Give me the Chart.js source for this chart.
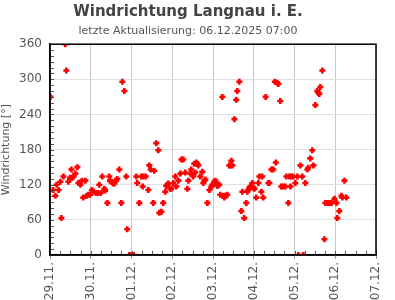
<!DOCTYPE html>
<html>
<head>
<meta charset="utf-8">
<script src="https://cdn.jsdelivr.net/npm/chart.js@4.4.1/dist/chart.umd.min.js"></script>
<style>
  html, body { margin: 0; padding: 0; background: #fff; }
  #wrap { width: 395px; height: 300px; }
</style>
</head>
<body>
<div id="wrap"><canvas id="windChart"></canvas></div>
<script>
// Stunden seit 29.11. 00:00
const stunden = [
  0.3, 1.8, 3.1, 3.9, 5.1, 6.1, 6.7, 7.9, 9.0, 9.6, 10.8, 11.8, 12.6, 13.1, 13.9, 14.9, 16.1, 16.7, 17.9, 18.8,
  19.6, 20.8, 21.6, 22.6, 23.6, 24.7, 25.7, 27.1, 28.1, 29.0, 29.9, 30.8, 32.0, 32.5, 33.8, 34.9, 35.3, 36.3, 37.1, 38.0,
  38.8, 39.6, 40.8, 42.0, 42.6, 43.8, 44.9, 45.5, 46.7, 48.1, 49.3, 50.8, 51.4, 52.6, 53.8, 54.6, 55.0, 56.4, 57.9, 58.5,
  59.3, 60.8, 61.4, 62.6, 63.8, 64.4, 65.6, 66.7, 67.9, 68.5, 69.1, 69.7, 70.9, 71.4, 72.6, 73.8, 74.4, 75.6, 76.8, 77.4,
  78.5, 79.7, 80.9, 81.5, 82.6, 83.2, 84.4, 85.0, 85.6, 86.2, 86.8, 87.3, 88.5, 89.7, 90.3, 90.9, 91.5, 92.7, 93.9, 95.1,
  95.6, 96.8, 97.4, 97.9, 98.6, 99.7, 100.3, 101.5, 102.1, 102.7, 103.3, 104.4, 105.6, 106.2, 106.8, 107.4, 108.6, 109.7, 110.3, 111.5,
  112.7, 113.3, 114.4, 115.6, 116.2, 116.8, 117.4, 118.0, 118.6, 119.2, 119.8, 120.4, 121.5, 122.7, 123.3, 124.5, 125.0, 125.6, 127.0, 128.6,
  129.2, 130.4, 131.5, 132.4, 133.0, 133.9, 134.5, 135.6, 136.2, 137.4, 138.6, 139.2, 140.4, 141.0, 141.6, 142.1, 143.3, 144.5, 145.7, 146.3,
  147.5, 148.6, 149.2, 150.4, 151.6, 152.1, 153.3, 154.5, 155.1, 156.3, 157.4, 158.0, 158.6, 159.2, 160.4, 161.6, 162.2, 163.4, 164.6, 165.8,
  167.5, 168.7, 169.2, 170.4, 171.6, 172.2, 173.4, 174.5
];
// Windrichtung in Grad
const richtung = [
  270, 111, 101, 120, 111, 125, 63, 134, 360, 315, 125, 132, 146, 132, 134, 139, 150, 123, 120, 127,
  98, 127, 101, 103, 103, 111, 108, 106, 106, 120, 106, 134, 113, 110, 89, 134, 127, 125, 122, 122,
  127, 130, 146, 89, 296, 280, 134, 44, 0, 0, 0, 134, 123, 89, 134, 117, 134, 134, 111, 153,
  146, 89, 144, 191, 179, 72, 74, 89, 108, 118, 120, 122, 113, 113, 123, 134, 117, 127, 139, 163,
  163, 141, 113, 127, 139, 146, 134, 156, 141, 158, 156, 153, 134, 142, 123, 127, 129, 89, 111, 117,
  120, 125, 127, 122, 118, 120, 103, 270, 101, 98, 101, 103, 153, 153, 161, 153, 232, 265, 280, 296,
  75, 108, 63, 89, 108, 111, 115, 117, 117, 123, 115, 113, 98, 123, 134, 108, 134, 98, 270, 123,
  123, 146, 146, 296, 158, 294, 292, 263, 117, 117, 117, 134, 89, 134, 117, 134, 134, 123, 134, 0,
  153, 134, 0, 123, 146, 149, 165, 179, 153, 256, 280, 277, 275, 287, 315, 27, 89, 89, 89, 89,
  96, 89, 63, 75, 101, 98, 127, 98
];
const tagLabels = ['29.11.', '30.11.', '01.12.', '02.12.', '03.12.', '04.12.', '05.12.', '06.12.', '07.12.'];

const punkte = [];
for (let i = 0; i < stunden.length; i++) {
  punkte.push({ x: stunden[i], y: richtung[i] });
}

// Rahmen und kleine Teilstriche
const rahmenPlugin = {
  id: 'rahmen',
  afterDraw(chart) {
    const ctx = chart.ctx;
    const a = chart.chartArea;
    const xs = chart.scales.x;
    const ys = chart.scales.y;
    ctx.save();
    ctx.strokeStyle = '#555';
    ctx.lineWidth = 1;
    ctx.beginPath();
    for (let v = 0; v <= 360; v += 10) {
      const py = Math.round(ys.getPixelForValue(v)) + 0.5;
      ctx.moveTo(a.left, py);
      ctx.lineTo(a.left + 4, py);
    }
    for (let h = 0; h <= 192; h += 6) {
      const px = Math.round(xs.getPixelForValue(h)) + 0.5;
      ctx.moveTo(px, a.bottom);
      ctx.lineTo(px, a.bottom - 4);
    }
    ctx.stroke();
    ctx.strokeStyle = '#000';
    ctx.lineWidth = 1.5;
    ctx.strokeRect(a.left, a.top, a.right - a.left, a.bottom - a.top);
    ctx.restore();
  }
};

const ctx = document.getElementById('windChart').getContext('2d');
new Chart(ctx, {
  type: 'scatter',
  data: {
    datasets: [{
      label: 'Windrichtung',
      data: punkte,
      pointStyle: 'cross',
      pointRadius: 3,
      pointBorderWidth: 2.6,
      borderColor: '#ff0000',
      backgroundColor: '#ff0000'
    }]
  },
  options: {
    responsive: true,
    maintainAspectRatio: false,
    animation: false,
    layout: { padding: { left: 0, right: 19, top: 0, bottom: 0 } },
    plugins: {
      legend: { display: false },
      tooltip: { enabled: false },
      title: {
        display: true,
        text: 'Windrichtung Langnau i. E.',
        color: '#444',
        font: { family: 'DejaVu Sans', size: 15, weight: 'bold' },
        padding: { top: 3, bottom: 2 }
      },
      subtitle: {
        display: true,
        text: 'letzte Aktualisierung: 06.12.2025 07:00',
        color: '#555',
        font: { family: 'DejaVu Sans', size: 11 },
        padding: { top: 2, bottom: 6 }
      }
    },
    scales: {
      x: {
        type: 'linear',
        min: 0,
        max: 192,
        afterFit(scale) { scale.height = 45; },
        ticks: {
          stepSize: 24,
          minRotation: 90,
          maxRotation: 90,
          color: '#555',
          font: { family: 'DejaVu Sans', size: 12 },
          callback: (v) => tagLabels[Math.round(v / 24)]
        },
        grid: { color: '#c8c8c8', tickLength: 4, tickColor: '#999' },
        border: { color: '#000', width: 1.5 }
      },
      y: {
        min: 0,
        max: 360,
        afterFit(scale) { scale.width = 50; },
        title: {
          display: true,
          text: 'Windrichtung [°]',
          color: '#555',
          font: { family: 'DejaVu Sans', size: 11 },
          padding: { top: 0, bottom: 0 }
        },
        ticks: {
          stepSize: 60,
          color: '#555',
          font: { family: 'DejaVu Sans', size: 12 },
          padding: 8
        },
        grid: { color: '#e0e0e0', drawTicks: false },
        border: { color: '#000', width: 1.5 }
      }
    }
  },
  plugins: [rahmenPlugin]
});
</script>
</body>
</html>
